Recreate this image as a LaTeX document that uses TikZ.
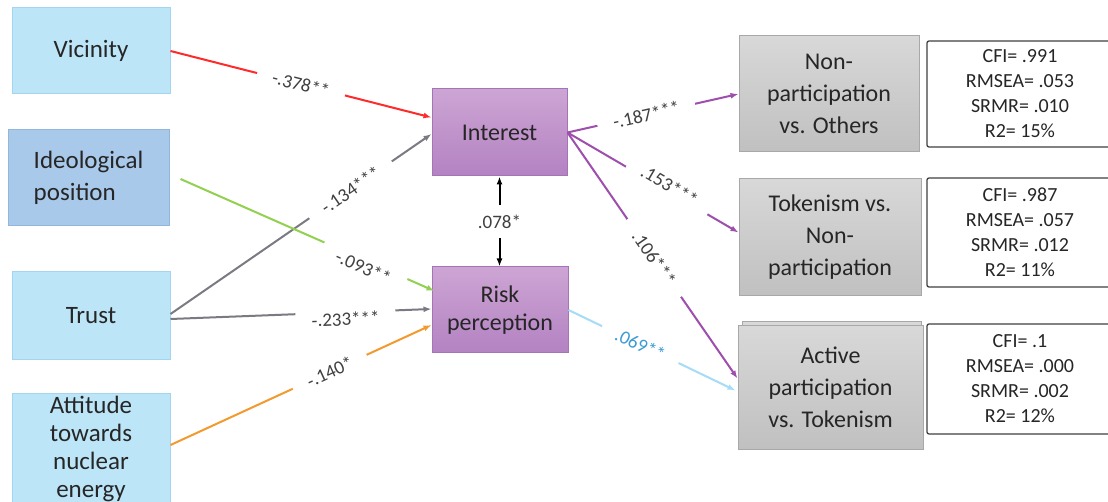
\documentclass[tikz,border=0pt]{standalone}
\usepackage{fontspec}
\setmainfont{Carlito}
\usetikzlibrary{arrows.meta,calc}

\definecolor{srcfill}{HTML}{BDE5F8}
\definecolor{srcedge}{HTML}{A3D5F0}
\definecolor{ideofill}{HTML}{A9C9EA}
\definecolor{ideoedge}{HTML}{93B6DC}
\definecolor{lattop}{HTML}{CDA5D4}
\definecolor{latbot}{HTML}{B382C2}
\definecolor{latedge}{HTML}{A673B7}
\definecolor{outtop}{HTML}{D8D8D8}
\definecolor{outbot}{HTML}{C0C0C0}
\definecolor{outedge}{HTML}{A8A8A8}
\definecolor{fitedge}{HTML}{404040}
\definecolor{txt}{HTML}{262626}
\definecolor{labtxt}{HTML}{404040}
\definecolor{cred}{HTML}{FF2A2A}
\definecolor{cgray}{HTML}{7A7A82}
\definecolor{cgreen}{HTML}{92D050}
\definecolor{corange}{HTML}{F29A2E}
\definecolor{cpurple}{HTML}{9E4FAE}
\definecolor{cblue}{HTML}{A6DCF7}
\definecolor{cbluetxt}{HTML}{3A9BD5}

\begin{document}
\begin{tikzpicture}[x=1pt,y=-1pt,
  srcbox/.style={draw=srcedge, fill=srcfill, line width=1pt, inner sep=0pt,
    text=txt, align=center, font=\fontsize{25}{30}\selectfont},
  latbox/.style={draw=latedge, top color=lattop, bottom color=latbot, line width=1pt,
    inner sep=0pt, text=txt, align=center, font=\fontsize{24}{28}\selectfont},
  outbox/.style={draw=outedge, top color=outtop, bottom color=outbot, line width=1pt,
    inner sep=0pt, text=txt, align=center, font=\fontsize{24}{32}\selectfont},
  fitbox/.style={draw=fitedge, fill=white, line width=1.3pt, rounded corners=2pt,
    inner sep=0pt, text=txt, align=center, font=\fontsize{20}{25}\selectfont},
  link/.style={line width=2pt, -{Latex[length=8pt,width=6pt]}},
  coef/.style={fill=white, sloped, inner xsep=16pt, inner ysep=1pt, text=labtxt,
    font=\fontsize{19}{19}\selectfont},
  coefbelow/.style={coef, inner ysep=8pt, below=-9pt},
  coefabove/.style={coef, inner ysep=8pt, above=-10pt},
]
\clip (0,0) rectangle (1108,502);
\fill[white] (0,0) rectangle (1108,502);

% exogenous predictors
\node[srcbox, minimum width=158pt, minimum height=86pt] (vic) at (91,51) {Vicinity};
\node[srcbox, draw=ideoedge, fill=ideofill, align=left, minimum width=161pt, minimum height=96pt] (ideo) at (88.5,178) {Ideological\\[2pt]position};
\node[srcbox, minimum width=158pt, minimum height=88pt] (trust) at (91,316) {Trust};
\node[srcbox, minimum width=158pt, minimum height=111pt, font=\fontsize{25}{28}\selectfont] (att) at (91,448.5) {Attitude\\towards\\nuclear\\energy};

% mediators
\node[latbox, minimum width=135pt, minimum height=87pt] (int) at (499.5,132.5) {Interest};
\node[latbox, minimum width=136pt, minimum height=86pt] (risk) at (500,310) {Risk\\perception};

% outcomes
\node[outbox, minimum width=180pt, minimum height=116pt] (nonp) at (829,94) {Non-\\participation\\vs. Others};
\node[outbox, minimum width=182pt, minimum height=117pt] (tok) at (830,237.5) {Tokenism vs.\\Non-\\participation};
\fill[outtop, draw=outedge, line width=1pt] (742,322) rectangle (921,332);
\node[outbox, minimum width=185pt, minimum height=123pt] (act) at (830.5,387.5) {Active\\participation\\vs. Tokenism};

% fit indices
\node[fitbox, minimum width=186pt, minimum height=106pt] (fit1) at (1020,94) {CFI= .991\\RMSEA= .053\\SRMR= .010\\R2= 15\%};
\node[fitbox, minimum width=186pt, minimum height=109pt] (fit2) at (1020,232.5) {CFI= .987\\RMSEA= .057\\SRMR= .012\\R2= 11\%};
\node[fitbox, minimum width=186pt, minimum height=110pt] (fit3) at (1020,379) {CFI= .1\\RMSEA= .000\\SRMR= .002\\R2= 12\%};

% paths into the mediators
\draw[link, cred] (vic.east) -- node[coef, pos=0.5] {-.378**} ($(int.west)+(0,-15)$);
\draw[link, cgray] ($(trust.east)+(0,-2)$) -- node[coef, pos=0.69] {-.134***} ($(int.west)+(0,1.5)$);
\draw[link, cgreen] ($(ideo.east)+(11,1)$) -- node[coefbelow, pos=0.73] {-.093**} ($(risk.west)+(3,-19)$);
\draw[link, cgray] ($(trust.east)+(0,3)$) -- node[coefbelow, pos=0.67] {-.233***} ($(risk.west)+(0,-1)$);
\draw[link, corange] ($(att.east)+(0,-3.5)$) -- node[coef, pos=0.61] {-.140*} ($(risk.west)+(0,15)$);

% covariance between the mediators
\draw[line width=2pt, black, {Latex[length=8pt,width=6pt]}-{Latex[length=8pt,width=6pt]}]
  (int.south) -- node[fill=white, inner xsep=2pt, inner ysep=10pt, text=labtxt, font=\fontsize{19}{19}\selectfont] {.078*} (int.south |- risk.north);

% paths into the outcomes
\draw[link, cpurple] (int.east) -- node[coef, pos=0.46] {-.187***} (nonp.west);
\draw[link, cpurple] (int.east) -- node[coefabove, pos=0.58] {.153***} ($(tok.west)+(0,-5)$);
\draw[link, cpurple] (int.east) -- node[coef, pos=0.51] {.106***} ($(act.west)+(0,-9)$);
\draw[link, cblue] (risk.east) -- node[coef, pos=0.43, text=cbluetxt] {.069**} ($(act.west)+(-2,3)$);
\end{tikzpicture}
\end{document}
